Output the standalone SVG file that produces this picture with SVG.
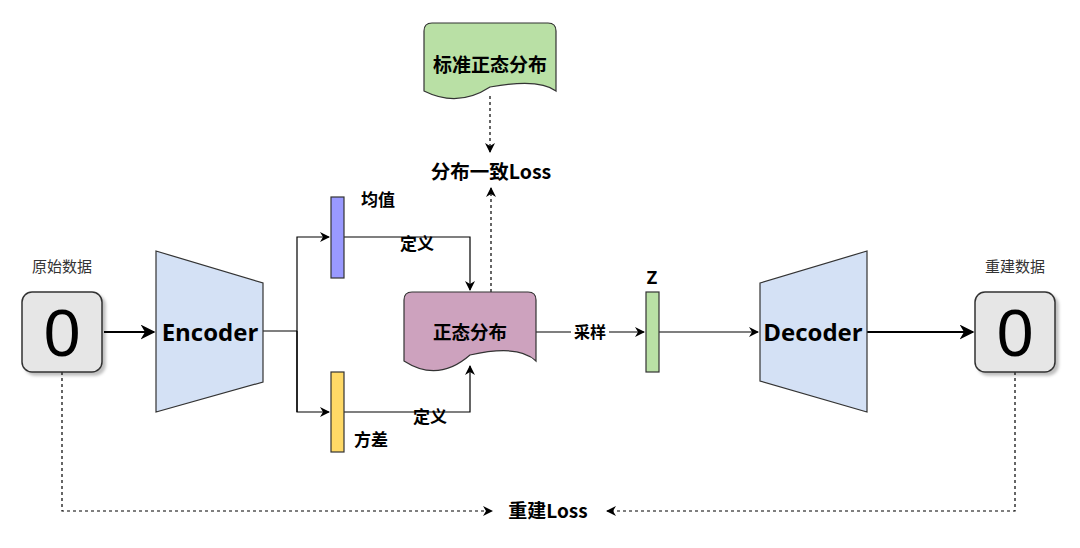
<svg xmlns="http://www.w3.org/2000/svg" width="1080" height="548" viewBox="0 0 1080 548">
<defs>
<style>
.cn{font-family:"Noto Sans CJK SC","Noto Sans",sans-serif;}
.b{font-weight:bold;fill:#000;}
.lbl{font-size:15px;fill:#333;}
.en{font-family:"Open Sans","Noto Sans",sans-serif;font-weight:bold;font-size:24px;fill:#000;}
.num{font-family:"Liberation Sans",Arial,sans-serif;font-size:66px;fill:#000;}
.box{fill:#e6e6e6;stroke:#333;stroke-width:1.5;}
.trap{fill:#d4e1f5;stroke:#333;stroke-width:1.2;}
.ln{fill:none;stroke:#000;stroke-width:1.2;}
.thick{fill:none;stroke:#000;stroke-width:2.2;}
.dash{fill:none;stroke:#000;stroke-width:1.2;stroke-dasharray:3 3;}
.bar{stroke:#333;stroke-width:1.2;}
</style>
<marker id="arr" viewBox="0 0 10 10" refX="9" refY="5" markerWidth="10" markerHeight="10" markerUnits="userSpaceOnUse" orient="auto">
<path d="M0,0 L10,5 L0,10 L3,5 Z" fill="#000"/>
</marker>
<marker id="arrB" viewBox="0 0 10 10" refX="9" refY="5" markerWidth="15" markerHeight="15" markerUnits="userSpaceOnUse" orient="auto">
<path d="M0,0 L10,5 L0,10 L3,5 Z" fill="#000"/>
</marker>
<filter id="sh" x="-20%" y="-20%" width="150%" height="150%">
<feDropShadow dx="3" dy="3" stdDeviation="1.5" flood-color="#000" flood-opacity="0.25"/>
</filter>
</defs>

<g id="connectors">
<line class="thick" x1="104" y1="332" x2="154" y2="332" marker-end="url(#arrB)"/>
<polyline class="ln" points="263,331 297,331"/>
<polyline class="ln" points="297,412 297,237 329,237" marker-end="url(#arr)"/>
<polyline class="ln" points="297,331 297,412 329,412" marker-end="url(#arr)"/>
<polyline class="ln" points="344,237 470,237 470,290" marker-end="url(#arr)"/>
<polyline class="ln" points="344,412 470,412 470,366" marker-end="url(#arr)"/>
<line class="dash" x1="491" y1="292" x2="491" y2="188" marker-end="url(#arr)"/>
<line class="dash" x1="490" y1="96" x2="490" y2="152" marker-end="url(#arr)"/>
<line class="ln" x1="536" y1="332" x2="644" y2="332" marker-end="url(#arr)"/>
<line class="ln" x1="659" y1="332" x2="758" y2="332" marker-end="url(#arr)"/>
<line class="thick" x1="867" y1="332" x2="973" y2="332" marker-end="url(#arrB)"/>
<polyline class="dash" points="62,372 62,511 492,511" marker-end="url(#arr)"/>
<polyline class="dash" points="1015,372 1015,511 607,511" marker-end="url(#arr)"/>
<rect x="571" y="322" width="38" height="20" fill="#fff"/>
<text class="cn b" x="590" y="338" font-size="16" text-anchor="middle">采样</text>
<text class="cn b" x="417" y="250" font-size="17" text-anchor="middle">定义</text>
<text class="cn b" x="430" y="423" font-size="17" text-anchor="middle">定义</text>
</g>

<g id="node-input">
<text class="cn lbl" x="62" y="272" text-anchor="middle">原始数据</text>
<rect class="box" x="22" y="292" width="80" height="80" rx="10" filter="url(#sh)"/>
<text class="num" x="62" y="356" text-anchor="middle">0</text>
</g>

<g id="node-encoder">
<path class="trap" d="M156,251 L263,283 L263,382 L156,412 Z"/>
<text class="en" x="210" y="341" text-anchor="middle">Encoder</text>
</g>

<g id="node-mean">
<rect class="bar" x="331" y="197" width="13" height="81" fill="#9999ff"/>
<text class="cn b" x="378" y="206" font-size="17" text-anchor="middle">均值</text>
</g>

<g id="node-var">
<rect class="bar" x="331" y="372" width="13" height="80" fill="#ffd966"/>
<text class="cn b" x="371" y="446" font-size="17" text-anchor="middle">方差</text>
</g>

<g id="node-normal">
<path d="M412,292 L528,292 Q536,292 536,300 L536,361 Q519,344 470,355 Q438,383 404,361 L404,300 Q404,292 412,292 Z" fill="#cda2be" stroke="#333" stroke-width="1.2"/>
<text class="cn b" x="470" y="339" font-size="18.5" text-anchor="middle">正态分布</text>
</g>

<g id="node-std-normal">
<path d="M432,23 L548,23 Q556,23 556,31 L556,91 Q539,78 490,87 Q458,108 424,91 L424,31 Q424,23 432,23 Z" fill="#b9e0a5" stroke="#333" stroke-width="1.2"/>
<text class="cn b" x="490" y="72" font-size="19" text-anchor="middle">标准正态分布</text>
</g>

<g id="node-kl-loss">
<text class="cn b" x="491" y="179" font-size="19.5" text-anchor="middle">分布一致Loss</text>
</g>

<g id="node-z">
<text x="652" y="284" font-family="Open Sans, Noto Sans, sans-serif" font-weight="bold" font-size="18" text-anchor="middle">Z</text>
<rect class="bar" x="646" y="292" width="13" height="80" fill="#b9e0a5"/>
</g>

<g id="node-decoder">
<path class="trap" d="M760,283 L867,251 L867,412 L760,381 Z"/>
<text class="en" x="813" y="341" text-anchor="middle">Decoder</text>
</g>

<g id="node-output">
<text class="cn lbl" x="1015" y="272" text-anchor="middle">重建数据</text>
<rect class="box" x="975" y="292" width="80" height="80" rx="10" filter="url(#sh)"/>
<text class="num" x="1015" y="356" text-anchor="middle">0</text>
</g>

<g id="node-rec-loss">
<text class="cn b" x="548" y="518" font-size="19" text-anchor="middle">重建Loss</text>
</g>
</svg>
